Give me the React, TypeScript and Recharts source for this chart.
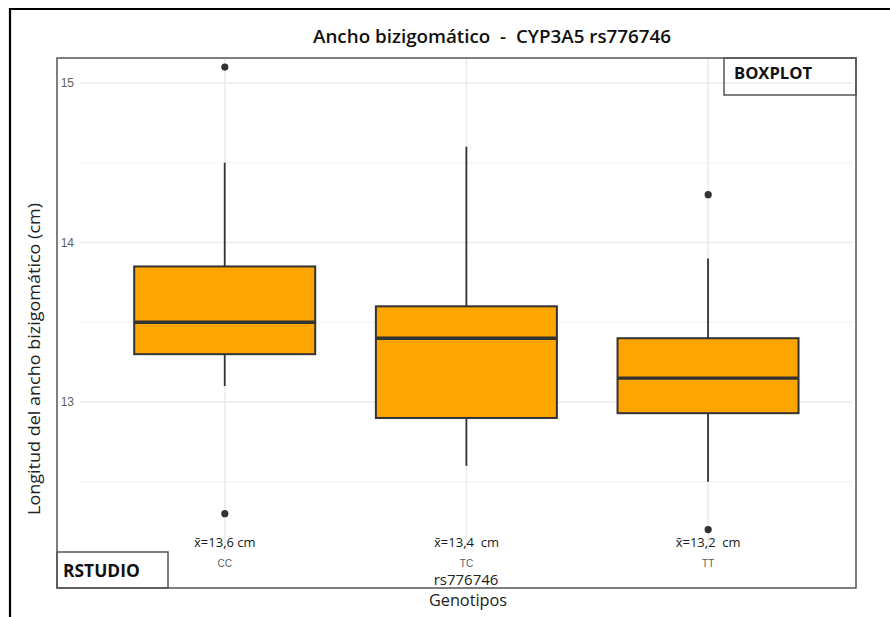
import React from 'react';
import { ComposedChart, Bar, Scatter, XAxis, YAxis, CartesianGrid } from 'recharts';

const categories = ['CC', 'TC', 'TT'];
const whiskerLow = [13.1, 12.6, 12.5];
const q1 = [13.3, 12.9, 12.93];
const median = [13.5, 13.4, 13.15];
const q3 = [13.85, 13.6, 13.4];
const whiskerHigh = [14.5, 14.6, 13.9];
const outlierHigh: (number | null)[] = [15.1, null, 14.3];
const outlierLow: (number | null)[] = [12.3, null, 12.2];
const meanLabels = ['x\u0304=13,6 cm', 'x\u0304=13,4  cm', 'x\u0304=13,2  cm'];
const yTicks = [13, 14, 15];
const yMinorTicks = [12.5, 13.5, 14.5];

const title = 'Ancho bizigomático  -  CYP3A5 rs776746';
const yTitle = 'Longitud del ancho bizigomático (cm)';
const xTitle = 'rs776746';
const caption = 'Genotipos';

const data = categories.map((g, i) => ({
  genotype: g,
  whiskerLow: whiskerLow[i],
  q1: q1[i],
  median: median[i],
  q3: q3[i],
  whiskerHigh: whiskerHigh[i],
  outHigh: outlierHigh[i],
  outLow: outlierLow[i],
  mean: meanLabels[i],
}));

const FONT = '"Open Sans", "Noto Sans", sans-serif';
const INK = '#333333';

const BoxShape = (props: any) => {
  const { x, y, width, height, payload } = props;
  if (x == null || y == null) return null;
  const top = Math.min(y, y + height);
  const bottom = Math.max(y, y + height);
  const span = payload.whiskerHigh - payload.whiskerLow;
  const px = (v: number) => top + ((payload.whiskerHigh - v) / span) * (bottom - top);
  const cx = x + width / 2;
  const yq3 = px(payload.q3);
  const yq1 = px(payload.q1);
  const ym = px(payload.median);
  return (
    <g>
      <line x1={cx} x2={cx} y1={top} y2={yq3} stroke={INK} strokeWidth={1.8} />
      <line x1={cx} x2={cx} y1={yq1} y2={bottom} stroke={INK} strokeWidth={1.8} />
      <rect x={x} y={yq3} width={width} height={yq1 - yq3} fill="#FFA500" stroke={INK} strokeWidth={2} />
      <line x1={x} x2={x + width} y1={ym} y2={ym} stroke={INK} strokeWidth={3.4} />
    </g>
  );
};

const Dot = (props: any) => {
  const { cx, cy } = props;
  if (cx == null || cy == null || isNaN(cx) || isNaN(cy)) return null;
  return <circle cx={cx} cy={cy} r={3.6} fill={INK} />;
};

const XTick = (props: any) => {
  const { x, y, payload } = props;
  const idx = categories.indexOf(payload.value);
  return (
    <g>
      <text x={x} y={y - 5} textAnchor="middle" fontFamily={FONT} fontSize={13} fill="#1a1a1a" style={{ whiteSpace: 'pre' }}>
        {meanLabels[idx]}
      </text>
      <text x={x} y={y + 15} textAnchor="middle" fontFamily='"Liberation Sans", Arial, sans-serif' fontSize={10} fill="#5a5a5a">
        {payload.value}
      </text>
    </g>
  );
};

const YTick = (props: any) => {
  const { x, y, payload } = props;
  return (
    <text x={x} y={y + 4} textAnchor="end" fontFamily='"Liberation Sans", Arial, sans-serif' fontSize={12} fill="#5f5f5f">
      {payload.value}
    </text>
  );
};

export default function App() {
  return (
    <div style={{ position: 'absolute', left: 0, top: 0, width: 890, height: 617, background: '#fff', overflow: 'hidden' }}>
      <ComposedChart
        width={890}
        height={617}
        data={data}
        margin={{ top: 58, right: 37, bottom: 45, left: 0 }}
        barCategoryGap="12.5%"
      >
        <CartesianGrid horizontalValues={yMinorTicks} vertical={false} syncWithTicks stroke="#EEEEEE" strokeWidth={0.9} />
        <CartesianGrid syncWithTicks stroke="#EBEBEB" strokeWidth={1.5} />
        <XAxis
          dataKey="genotype"
          type="category"
          allowDuplicatedCategory={false}
          padding={{ left: 24, right: 24 }}
          tickLine={false}
          axisLine={false}
          tickSize={0}
          tickMargin={0}
          height={20}
          tick={<XTick />}
          interval={0}
        />
        <YAxis
          type="number"
          domain={[12.0596, 15.157]}
          allowDataOverflow
          ticks={yTicks}
          tickLine={false}
          axisLine={false}
          tickSize={0}
          tickMargin={6}
          width={80}
          tick={<YTick />}
        />
        <Bar dataKey={(d: any) => [d.whiskerLow, d.whiskerHigh]} shape={<BoxShape />} isAnimationActive={false} />
        <Scatter dataKey="outHigh" shape={<Dot />} isAnimationActive={false} />
        <Scatter dataKey="outLow" shape={<Dot />} isAnimationActive={false} />
      </ComposedChart>
      <svg width={890} height={617} style={{ position: 'absolute', left: 0, top: 0, pointerEvents: 'none' }}>
        <line x1={10} x2={10} y1={8} y2={617} stroke="#000" strokeWidth={2.2} />
        <line x1={9} x2={890} y1={9} y2={9} stroke="#000" strokeWidth={2} />
        <text x={492} y={43} textAnchor="middle" fontFamily={FONT} fontWeight={600} fontSize={17.5} textLength={358} lengthAdjust="spacingAndGlyphs" fill="#111" style={{ whiteSpace: 'pre' }}>
          {title}
        </text>
        <rect x={57} y={58} width={799} height={530} fill="none" stroke="#555" strokeWidth={1.5} />
        <rect x={724} y={58} width={132} height={37} fill="none" stroke="#555" strokeWidth={1.5} />
        <text x={734} y={79} fontFamily={FONT} fontWeight={700} fontSize={16.6} fill="#111">BOXPLOT</text>
        <rect x={57} y={552} width={111} height={36} fill="none" stroke="#555" strokeWidth={1.5} />
        <text x={63} y={577} fontFamily={FONT} fontWeight={700} fontSize={17.4} fill="#111">RSTUDIO</text>
        <text x={466} y={585} textAnchor="middle" fontFamily={FONT} fontSize={15} fill="#222">{xTitle}</text>
        <text x={468} y={606} textAnchor="middle" fontFamily={FONT} fontSize={16.3} fill="#222">{caption}</text>
        <text transform="translate(40,359) rotate(-90)" textAnchor="middle" fontFamily={FONT} fontSize={16} textLength={312} lengthAdjust="spacingAndGlyphs" fill="#222">
          {yTitle}
        </text>
      </svg>
    </div>
  );
}
